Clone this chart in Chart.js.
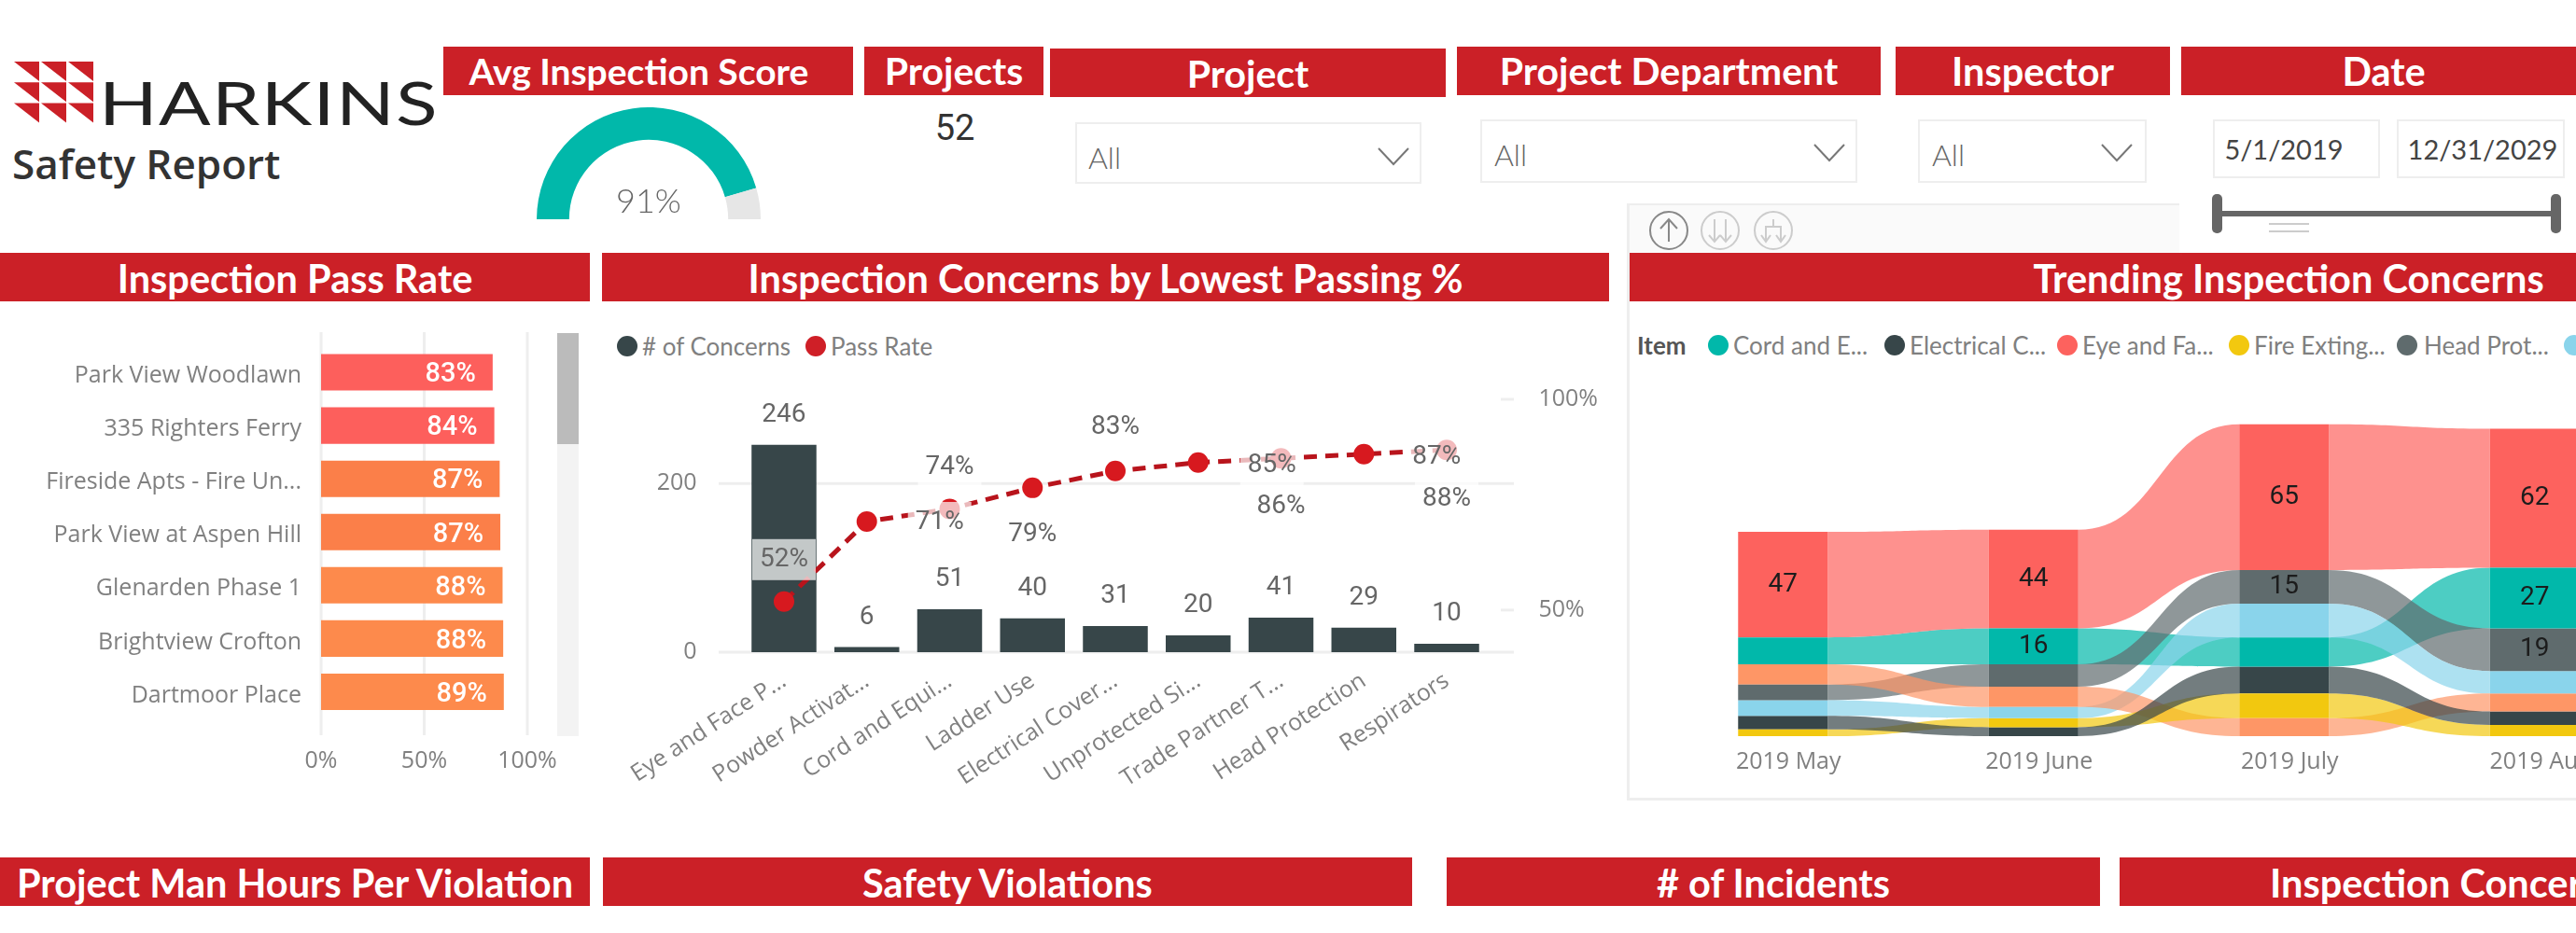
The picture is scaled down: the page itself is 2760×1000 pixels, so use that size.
<!DOCTYPE html>
<html>
<head>
<meta charset="utf-8">
<title>Safety Report</title>
<script src="https://cdn.jsdelivr.net/npm/chart.js@4"></script>
<style>
    html, body { margin: 0; padding: 0; width: 2760px; height: 1000px; overflow: hidden; background: #fff; }
    body { position: relative; font-family: "Open Sans", sans-serif; color: #808080; }
    canvas { position: absolute; }
    .hdr { position: absolute; background: #cb2027; color: #fff; font: 700 41.5px Lato, sans-serif; text-align: center; white-space: nowrap; overflow: hidden; }
    .txt { position: absolute; white-space: nowrap; }
    .box { position: absolute; box-sizing: border-box; border: 2px solid #eeeeee; }
    .dot { position: absolute; width: 22px; height: 22px; border-radius: 50%; }
    .slicer { font: 300 32px Lato, sans-serif; color: #666; }
    .legend { font: 400 26px Lato, sans-serif; color: #808080; }
</style>
</head>
<body>
<div id="toolbar" style="position:absolute;left:1743px;top:218px;width:592px;height:60px;background:#fafafa;border-top:2px solid #eeeeee"></div>
<div id="panel" style="position:absolute;left:1743px;top:218px;width:1100px;height:640px;border-left:3px solid #eeeeee;border-bottom:3px solid #eeeeee;box-sizing:border-box"></div>
<svg id="chrome" width="2760" height="1000" style="position:absolute;left:0;top:0"></svg>

<div class="hdr" style="left:475px;top:50px;width:419px;padding-right:20px;height:52px;line-height:52px;font-size:39px">Avg Inspection Score</div>
<div class="hdr" style="left:926px;top:50px;width:192px;height:52px;line-height:52px;font-size:41px">Projects</div>
<div class="hdr" style="left:1125px;top:52px;width:424px;height:52px;line-height:54px;font-size:41px">Project</div>
<div class="hdr" style="left:1561px;top:50px;width:454px;height:52px;line-height:52px;font-size:41px">Project Department</div>
<div class="hdr" style="left:2031px;top:50px;width:294px;height:52px;line-height:52px">Inspector</div>
<div class="hdr" style="left:2337px;top:50px;width:434px;height:52px;line-height:52px">Date</div>
<div class="hdr" style="left:0;top:271px;width:632px;height:52px;line-height:55px">Inspection Pass Rate</div>
<div class="hdr" style="left:645px;top:271px;width:1079px;height:52px;line-height:55px">Inspection Concerns by Lowest Passing %</div>
<div class="hdr" style="left:1746px;top:271px;width:1412px;height:52px;line-height:55px">Trending Inspection Concerns</div>
<div class="hdr" style="left:0;top:919px;width:632px;height:52px;line-height:55px">Project Man Hours Per Violation</div>
<div class="hdr" style="left:646px;top:919px;width:867px;height:52px;line-height:55px">Safety Violations</div>
<div class="hdr" style="left:1550px;top:919px;width:700px;height:52px;line-height:55px"># of Incidents</div>
<div class="hdr" style="left:2271px;top:919px;width:700px;height:52px;line-height:55px;text-align:left;padding-left:161px">Inspection Concerns</div>

<div class="txt" style="left:106px;top:74px;font:400 64px/72px Lato,sans-serif;color:#222;letter-spacing:1px;transform:scaleX(1.285);transform-origin:left center">HARKINS</div>
<div class="txt" style="left:13px;top:148px;font:600 44px/54px 'Open Sans',sans-serif;color:#333">Safety Report</div>
<div class="txt" style="left:923px;top:110px;width:200px;text-align:center;font:400 38px/54px Roboto,sans-serif;color:#333">52</div>

<div class="box" style="left:1152px;top:131px;width:371px;height:66px"></div>
<div class="box" style="left:1586px;top:128px;width:404px;height:68px"></div>
<div class="box" style="left:2055px;top:128px;width:245px;height:68px"></div>
<div class="box" style="left:2371px;top:128px;width:179px;height:63px"></div>
<div class="box" style="left:2568px;top:128px;width:180px;height:63px"></div>
<div class="txt slicer" style="left:1166px;top:147px;line-height:44px">All</div>
<div class="txt slicer" style="left:1601px;top:144px;line-height:44px">All</div>
<div class="txt slicer" style="left:2070px;top:144px;line-height:44px">All</div>
<div class="txt" style="left:2371px;top:140px;width:152px;text-align:center;font:400 29px/40px Lato,sans-serif;color:#444">5/1/2019</div>
<div class="txt" style="left:2568px;top:140px;width:184px;text-align:center;font:400 29px/40px Lato,sans-serif;color:#444">12/31/2029</div>

<div class="dot" style="left:661px;top:360px;background:#374649"></div>
<div class="txt legend" style="left:688px;top:353px;line-height:36px"># of Concerns</div>
<div class="dot" style="left:863px;top:360px;background:#cf1f27"></div>
<div class="txt legend" style="left:890px;top:353px;line-height:36px">Pass Rate</div>

<div class="txt legend" style="left:1754px;top:352px;line-height:36px;font-weight:700;color:#555">Item</div>
<div class="dot" style="left:1830px;top:359px;background:#01b8aa"></div>
<div class="txt legend" style="left:1857px;top:352px;line-height:36px">Cord and E...</div>
<div class="dot" style="left:2019px;top:359px;background:#374649"></div>
<div class="txt legend" style="left:2046px;top:352px;line-height:36px">Electrical C...</div>
<div class="dot" style="left:2204px;top:359px;background:#fd625e"></div>
<div class="txt legend" style="left:2231px;top:352px;line-height:36px">Eye and Fa...</div>
<div class="dot" style="left:2388px;top:359px;background:#f2c80f"></div>
<div class="txt legend" style="left:2415px;top:352px;line-height:36px">Fire Exting...</div>
<div class="dot" style="left:2568px;top:359px;background:#5f6b6d"></div>
<div class="txt legend" style="left:2597px;top:352px;line-height:36px">Head Prot...</div>
<div class="dot" style="left:2747px;top:359px;background:#8ad4eb"></div>

<div style="position:absolute;left:597px;top:357px;width:23px;height:432px;background:#f3f3f3"></div>
<div style="position:absolute;left:597px;top:357px;width:23px;height:119px;background:#bbbbbb"></div>

<canvas id="gauge" width="240" height="120" style="left:575px;top:115px"></canvas>
<div class="txt" style="left:595px;top:188px;width:200px;text-align:center;font:300 36px/52px Lato,sans-serif;color:#666">91%</div>
<canvas id="passRate" width="640" height="500" style="left:0;top:340px"></canvas>
<canvas id="concerns" width="1100" height="473" style="left:640px;top:367px"></canvas>
<canvas id="trending" width="1074" height="512" style="left:1776px;top:346px"></canvas>

<script>
// gauge
const gaugeValues = [91, 9];

// pass rate by project
const projects = ['Park View Woodlawn', '335 Righters Ferry', 'Fireside Apts - Fire Un...', 'Park View at Aspen Hill', 'Glenarden Phase 1', 'Brightview Crofton', 'Dartmoor Place'];
const passRates = [83.2, 84, 86.6, 86.9, 88, 88.3, 88.6];
const passColors = ['#fd5f5c', '#fd5f5c', '#fb7f49', '#fb7f49', '#fd8a4c', '#fd8a4c', '#fd8a4c'];

// concerns by lowest passing %
const concernItems = ['Eye and Face P...', 'Powder Activat...', 'Cord and Equi...', 'Ladder Use', 'Electrical Cover...', 'Unprotected Si...', 'Trade Partner T...', 'Head Protection', 'Respirators'];
const concernCounts = [246, 6, 51, 40, 31, 20, 41, 29, 10];
const concernPass = [52, 71, 74, 79, 83, 85, 86, 87, 88];
const passLabelOffsets = [[0, -45], [78, 1], [0, -44], [0, 50], [0, -47], [79, 3], [0, 52], [78, 3], [0, 53]];

// trending ribbons
const months = ['2019 May', '2019 June', '2019 July', '2019 Aug'];
const cordSeries = [12, 16, 13, 27];
const eyeSeries = [47, 44, 65, 62];
const headSeries = [7, 10, 15, 19];
const blueSeries = [7, 5, 15, 10];
const orangeSeries = [9, 9, 8, 8];
const fireSeries = [3, 4, 11, 5];
const electricalSeries = [6, 4, 12, 6];

const ribbonItems = [
    { name: 'Cord and Equipment', values: cordSeries, color: '#01b8aa', labelled: true },
    { name: 'Eye and Face Protection', values: eyeSeries, color: '#fd625e', labelled: true },
    { name: 'Head Protection', values: headSeries, color: '#5f6b6d', labelled: true },
    { name: 'Housekeeping', values: blueSeries, color: '#8ad4eb', labelled: false },
    { name: 'Other', values: orangeSeries, color: '#fe9666', labelled: false },
    { name: 'Fire Extinguishers', values: fireSeries, color: '#f2c80f', labelled: false },
    { name: 'Electrical Covers', values: electricalSeries, color: '#374649', labelled: false }
];

const labelFont = '400 28px Roboto, sans-serif';
const axisFont = { family: '"Open Sans", sans-serif', size: 25 };
const grey = '#808080';

// static page furniture: logo, chevrons, slider, toolbar icons
const svgParts = [];
for (let r = 0; r < 3; r++) {
    for (let c = 0; c < 3; c++) {
        const x = 15 + c * 29, y = 66 + r * 22.2;
        svgParts.push(`<polygon points="${x},${y} ${x + 27},${y} ${x + 27},${y + 21}" fill="#cb2027"/>`);
    }
}
[[1493, 167], [1960, 163], [2268, 163]].forEach(([x, y]) => {
    svgParts.push(`<polyline points="${x - 16},${y - 8} ${x},${y + 9} ${x + 16},${y - 8}" fill="none" stroke="#777" stroke-width="2"/>`);
});
svgParts.push('<rect x="2375" y="226" width="364" height="6" fill="#666"/>');
svgParts.push('<rect x="2370" y="208" width="11" height="42" rx="5" fill="#666"/><rect x="2733" y="208" width="11" height="42" rx="5" fill="#666"/>');
svgParts.push('<rect x="2431" y="239" width="43" height="2" fill="#ccc"/><rect x="2431" y="247" width="43" height="2" fill="#ccc"/>');
const iconPaths = [
    'M0 12V-12M-9 -2L0 -12L9 -2',
    'M-6 -12V12M-12 5L-6 12L0 5M6 -12V12M0 5L6 12L12 5',
    'M0 -12V-4M-8 12V-4H8V12M-13 5L-8 12L-3 5M3 5L8 12L13 5'
];
[[1788, '#888'], [1843, '#ccc'], [1900, '#ccc']].forEach(([x, col], i) => {
    svgParts.push(`<circle cx="${x}" cy="247" r="20" fill="none" stroke="${col}" stroke-width="2"/>`);
    svgParts.push(`<path transform="translate(${x} 247)" d="${iconPaths[i]}" fill="none" stroke="${col}" stroke-width="2"/>`);
});
document.getElementById('chrome').innerHTML = svgParts.join('');

// draws horizontal or vertical grid lines further than the chart area
const extendedGrid = {
    id: 'extendedGrid',
    beforeDatasetsDraw(chart, args, opts) {
        const ctx = chart.ctx;
        ctx.save();
        ctx.strokeStyle = '#eeeeee';
        ctx.lineWidth = 3;
        (opts.lines || []).forEach(line => {
            const scale = chart.scales[line.scale];
            scale.ticks.forEach(tick => {
                const p = scale.getPixelForValue(tick.value);
                ctx.beginPath();
                if (scale.isHorizontal()) {
                    ctx.moveTo(p, line.from);
                    ctx.lineTo(p, line.to);
                } else {
                    ctx.moveTo(line.from, p);
                    ctx.lineTo(line.to, p);
                }
                ctx.stroke();
            });
        });
        ctx.restore();
    }
};

new Chart(document.getElementById('gauge'), {
    type: 'doughnut',
    data: { datasets: [{ data: gaugeValues, backgroundColor: ['#01b8aa', '#e6e6e6'], borderWidth: 0 }] },
    options: {
        responsive: false, animation: false, rotation: -90, circumference: 180, cutout: '71%',
        plugins: { legend: { display: false }, tooltip: { enabled: false } }
    }
});

new Chart(document.getElementById('passRate'), {
    type: 'bar',
    data: { labels: projects, datasets: [{ data: passRates, backgroundColor: passColors, barPercentage: 0.684, categoryPercentage: 1 }] },
    options: {
        indexAxis: 'y', responsive: false, animation: false,
        layout: { autoPadding: false, padding: { top: 30.5, right: 75 } },
        scales: {
            x: {
                min: 0, max: 100,
                afterBuildTicks: s => { s.ticks = [{ value: 0 }, { value: 50 }, { value: 100 }]; },
                afterFit: s => { s.height = 70; },
                grid: { display: false }, border: { display: false },
                ticks: { font: axisFont, color: grey, padding: 23, maxRotation: 0, callback: v => v + '%' }
            },
            y: {
                afterFit: s => { s.width = 344; },
                grid: { display: false }, border: { display: false },
                ticks: { font: axisFont, color: grey, padding: 13, labelOffset: 4 }
            }
        },
        plugins: { legend: { display: false }, tooltip: { enabled: false }, extendedGrid: { lines: [{ scale: 'x', from: 356 - 340, to: 788 - 340 }] } }
    },
    plugins: [extendedGrid, {
        id: 'passLabels',
        afterDatasetsDraw(chart) {
            const ctx = chart.ctx;
            ctx.save();
            ctx.font = '500 29px Roboto, sans-serif';
            ctx.fillStyle = '#fff';
            ctx.textAlign = 'right';
            ctx.textBaseline = 'middle';
            chart.getDatasetMeta(0).data.forEach((bar, i) => {
                ctx.fillText(Math.round(passRates[i]) + '%', bar.x - 18, bar.y + 3);
            });
            ctx.restore();
        }
    }]
});

new Chart(document.getElementById('concerns'), {
    data: {
        labels: concernItems,
        datasets: [
            { type: 'line', data: concernPass, yAxisID: 'y1', borderColor: '#b8141c', borderWidth: 5, borderDash: [14, 9], tension: 0, pointRadius: 11, pointBackgroundColor: '#d7191f', pointBorderWidth: 0, order: 1 },
            { type: 'bar', data: concernCounts, yAxisID: 'y', backgroundColor: '#374649', barPercentage: 0.783, categoryPercentage: 1, order: 2 }
        ]
    },
    options: {
        responsive: false, animation: false,
        layout: { autoPadding: false, padding: { top: 25 } },
        scales: {
            x: {
                afterFit: s => { s.height = 141; },
                grid: { display: false }, border: { display: false },
                ticks: { font: axisFont, color: grey, minRotation: 33, maxRotation: 33, padding: 8, autoSkip: false }
            },
            y: {
                min: 0, max: 300, position: 'left',
                afterBuildTicks: s => { s.ticks = [{ value: 0 }, { value: 200 }]; },
                afterFit: s => { s.width = 155.6; },
                grid: { display: false }, border: { display: false },
                ticks: { font: axisFont, color: grey, padding: 41 }
            },
            y1: {
                min: 40, max: 100, position: 'right',
                afterBuildTicks: s => { s.ticks = [{ value: 50 }, { value: 100 }]; },
                afterFit: s => { s.width = 145.6; },
                grid: { display: false }, border: { display: false },
                ticks: { font: axisFont, color: grey, padding: 46, callback: v => v + '%' }
            }
        },
        plugins: {
            legend: { display: false }, tooltip: { enabled: false },
            extendedGrid: { lines: [{ scale: 'y', from: 130, to: 982 }, { scale: 'y1', from: 968, to: 982 }] }
        }
    },
    plugins: [extendedGrid, {
        id: 'concernLabels',
        afterDraw(chart) {
            const ctx = chart.ctx;
            ctx.save();
            ctx.font = labelFont;
            ctx.textAlign = 'center';
            ctx.textBaseline = 'middle';
            const bars = chart.getDatasetMeta(1).data;
            const points = chart.getDatasetMeta(0).data;
            bars.forEach((bar, i) => {
                ctx.fillStyle = '#666';
                ctx.fillText(concernCounts[i], bar.x, bar.y - 32);
            });
            points.forEach((pt, i) => {
                const text = concernPass[i] + '%';
                const x = pt.x + passLabelOffsets[i][0];
                const y = pt.y + passLabelOffsets[i][1];
                const w = ctx.measureText(text).width + 16;
                ctx.fillStyle = 'rgba(255, 255, 255, 0.7)';
                ctx.fillRect(x - w / 2, y - 22, w, 44);
                ctx.fillStyle = '#666';
                ctx.fillText(text, x, y);
            });
            ctx.restore();
        }
    }]
});

// each month's items sit in value order, biggest on top
function ribbonStacks() {
    return months.map((month, m) => {
        const order = ribbonItems.map((item, i) => i).sort((a, b) => ribbonItems[a].values[m] - ribbonItems[b].values[m] || b - a);
        const spans = [];
        let base = 0;
        order.forEach(i => {
            spans[i] = [base, base + ribbonItems[i].values[m]];
            base += ribbonItems[i].values[m];
        });
        return spans;
    });
}
const stacks = ribbonStacks();

new Chart(document.getElementById('trending'), {
    type: 'bar',
    data: {
        labels: months,
        datasets: ribbonItems.map((item, i) => ({
            label: item.name,
            data: months.map((month, m) => stacks[m][i]),
            backgroundColor: item.color,
            grouped: false,
            barPercentage: 0.3575,
            categoryPercentage: 1
        }))
    },
    options: {
        responsive: false, animation: false,
        layout: { autoPadding: false, padding: { top: 10 } },
        scales: {
            x: {
                afterFit: s => { s.height = 69; },
                grid: { display: false }, border: { display: false },
                ticks: { font: axisFont, color: grey, padding: 5, labelOffset: 6, maxRotation: 0 }
            },
            y: { display: false, min: 0, max: 180 }
        },
        plugins: { legend: { display: false }, tooltip: { enabled: false } }
    },
    plugins: [{
        id: 'ribbons',
        beforeDatasetsDraw(chart) {
            const ctx = chart.ctx;
            const y = chart.scales.y;
            ctx.save();
            ctx.globalAlpha = 0.7;
            ribbonItems.forEach((item, i) => {
                const bars = chart.getDatasetMeta(i).data;
                ctx.fillStyle = item.color;
                for (let m = 0; m < months.length - 1; m++) {
                    const x0 = bars[m].x + bars[m].width / 2;
                    const x1 = bars[m + 1].x - bars[m + 1].width / 2;
                    const mid = (x0 + x1) / 2;
                    const top0 = y.getPixelForValue(stacks[m][i][1]);
                    const low0 = y.getPixelForValue(stacks[m][i][0]);
                    const top1 = y.getPixelForValue(stacks[m + 1][i][1]);
                    const low1 = y.getPixelForValue(stacks[m + 1][i][0]);
                    ctx.beginPath();
                    ctx.moveTo(x0, top0);
                    ctx.bezierCurveTo(mid, top0, mid, top1, x1, top1);
                    ctx.lineTo(x1, low1);
                    ctx.bezierCurveTo(mid, low1, mid, low0, x0, low0);
                    ctx.closePath();
                    ctx.fill();
                }
            });
            ctx.restore();
        },
        afterDatasetsDraw(chart) {
            const ctx = chart.ctx;
            const y = chart.scales.y;
            ctx.save();
            ctx.font = labelFont;
            ctx.fillStyle = '#1c1c1c';
            ctx.textAlign = 'center';
            ctx.textBaseline = 'middle';
            ribbonItems.forEach((item, i) => {
                if (!item.labelled) return;
                chart.getDatasetMeta(i).data.forEach((bar, m) => {
                    if (item.values[m] < 15) return;
                    ctx.fillText(item.values[m], bar.x, y.getPixelForValue((stacks[m][i][0] + stacks[m][i][1]) / 2));
                });
            });
            ctx.restore();
        }
    }]
});
</script>
</body>
</html>
